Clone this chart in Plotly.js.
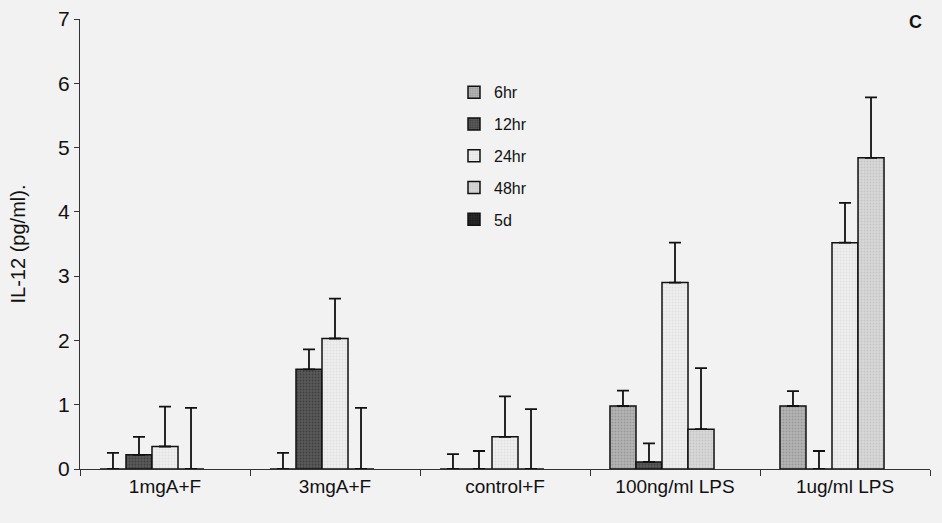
<!DOCTYPE html>
<html>
<head>
<meta charset="utf-8">
<script src="https://cdn.plot.ly/plotly-3.0.1.min.js"></script>
<style>html,body{margin:0;padding:0;background:#f2f2f2;}#chart{width:942px;height:523px;}</style>
</head>
<body>
<div id="chart"></div>
<script>
const categories = ["1mgA+F", "3mgA+F", "control+F", "100ng/ml LPS", "1ug/ml LPS"];
const seriesNames = ["6hr", "12hr", "24hr", "48hr", "5d"];
const v6hr  = [0, 0, 0, 0.98, 0.98];
const v12hr = [0.22, 1.55, 0, 0.11, 0];
const v24hr = [0.35, 2.03, 0.5, 2.9, 3.52];
const v48hr = [0, 0, 0, 0.62, 4.84];
const v5d   = [null, null, null, null, null];
const e6hr  = [0.25, 0.25, 0.23, 0.24, 0.23];
const e12hr = [0.28, 0.31, 0.28, 0.29, 0.28];
const e24hr = [0.62, 0.62, 0.63, 0.62, 0.62];
const e48hr = [0.95, 0.95, 0.93, 0.95, 0.94];
const e5d   = [null, null, null, null, null];
const yTicks = [0, 1, 2, 3, 4, 5, 6, 7];

const values = [v6hr, v12hr, v24hr, v48hr, v5d];
const errors = [e6hr, e12hr, e24hr, e48hr, e5d];
const fills = ["#b4b4b4", "#5a5a5a", "#eeeeee", "#d8d8d8", "#2a2a2a"];
const dots  = ["#7a7a7a", "#222222", "#d0d0d0", "#b0b0b0", "#000000"];

const traces = seriesNames.map((name, i) => ({
  type: "bar",
  name: name,
  x: categories,
  y: values[i],
  legendgroup: name,
  marker: {color: fills[i], line: {color: "#111", width: 1.5},
           pattern: {shape: ".", bgcolor: fills[i], fgcolor: dots[i], size: 3, solidity: 0.3, fillmode: "overlay"}},
  error_y: {type: "data", symmetric: false, array: errors[i], arrayminus: errors[i].map(() => 0),
            visible: true, color: "#111", thickness: 1.8, width: 6}
}));

const layout = {
  width: 942, height: 523,
  paper_bgcolor: "#f2f2f2", plot_bgcolor: "#f2f2f2",
  margin: {l: 80, r: 12, t: 19, b: 54},
  barmode: "group", bargap: 0.235, bargroupgap: 0,
  font: {family: "Liberation Sans, Arial, sans-serif", color: "#111"},
  showlegend: true,
  legend: {x: 0.44, y: 0.875, xanchor: "left", yanchor: "top", bgcolor: "rgba(0,0,0,0)",
           font: {size: 16, color: "#111"}, traceorder: "grouped", tracegroupgap: 8,
           itemwidth: 30},
  xaxis: {
    showline: true, linecolor: "#333", linewidth: 1.2,
    ticks: "outside", tickson: "boundaries", ticklen: 6, tickcolor: "#333",
    tickfont: {size: 19, color: "#111"}, showgrid: false, zeroline: false, fixedrange: true
  },
  yaxis: {
    range: [0, 7], tickvals: yTicks, showline: true, linecolor: "#333", linewidth: 1.2,
    ticks: "outside", ticklen: 5, tickcolor: "#333", showgrid: false, zeroline: false,
    tickfont: {size: 21, color: "#111"},
    title: {text: "IL-12 (pg/ml).", font: {size: 20, color: "#111"}, standoff: 27}
  },
  annotations: [{text: "<b>C</b>", xref: "paper", yref: "paper", x: 0.9835, y: 0.993,
                 xanchor: "center", yanchor: "middle", showarrow: false,
                 font: {size: 18, color: "#111"}}]
};
Plotly.newPlot("chart", traces, layout, {displayModeBar: false, staticPlot: true});
</script>
</body>
</html>
